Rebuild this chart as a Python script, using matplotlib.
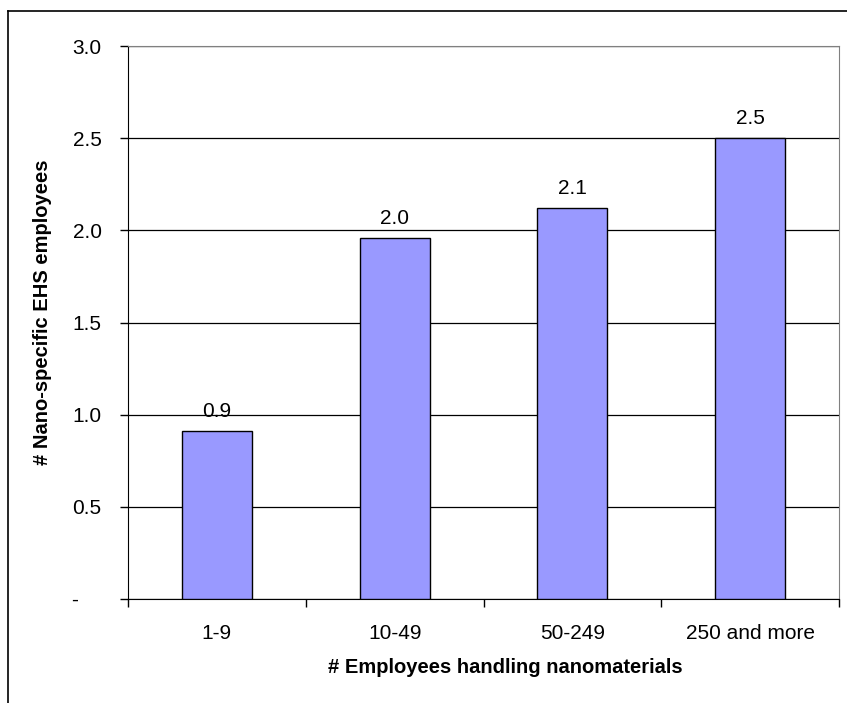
import numpy as np
import matplotlib.pyplot as plt
from matplotlib.ticker import FixedLocator

plt.rcParams['font.family'] = ['Liberation Sans', 'DejaVu Sans']

groups = ['1-9', '10-49', '50-249', '250 and more']
ehs = [0.91, 1.96, 2.12, 2.50]
yticks = [0, 0.5, 1.0, 1.5, 2.0, 2.5, 3.0]
# accounting-style zero: dash sits left of the decimal column
ytick_labels = ['-    ', '0.5', '1.0', '1.5', '2.0', '2.5', '3.0']

fig = plt.figure(figsize=(8.47, 7.03), dpi=100)
# chart frame (left and top edges)
fig.add_artist(plt.Line2D([0.0095, 0.0095], [0, 0.985], color='black', lw=1.2))
fig.add_artist(plt.Line2D([0.0095, 1.0], [0.985, 0.985], color='black', lw=1.2))

ax = fig.add_axes([128/847, 1-599/703, (839-128)/847, (599-46)/703])
x = np.arange(len(groups))
bars = ax.bar(x, ehs, width=0.395, color='#9999FF', edgecolor='black', linewidth=1, zorder=3)
for b, v in zip(bars, ehs):
    ax.text(b.get_x() + b.get_width()/2, v + 0.055, f'{v:.1f}', ha='center', va='bottom', fontsize=15)

ax.set_xlim(-0.5, len(groups) - 0.5)
ax.set_ylim(0, 3.0)
ax.set_yticks(yticks)
ax.set_yticklabels(ytick_labels, fontsize=15)
ax.yaxis.grid(True, color='black', linewidth=0.9, zorder=0)
ax.set_axisbelow(True)

ax.set_xticks(x)
ax.set_xticklabels(groups, fontsize=15)
ax.tick_params(axis='x', length=0, pad=18)
ax.xaxis.set_minor_locator(FixedLocator(np.arange(-0.5, len(groups), 1.0)))
ax.tick_params(axis='x', which='minor', length=6, width=1, direction='out')
ax.tick_params(axis='y', length=6, width=1, direction='out', pad=13)

for s in ['top', 'right']:
    ax.spines[s].set_color('#808080')
for s in ['left', 'bottom']:
    ax.spines[s].set_color('black')

ax.set_xlabel('# Employees handling nanomaterials', fontsize=14.5, fontweight='bold')
ax.set_ylabel('# Nano-specific EHS employees', fontsize=14.5, fontweight='bold')
ax.xaxis.set_label_coords(0.530, -0.107)
ax.yaxis.set_label_coords(-0.107, 0.519)

fig.savefig('out.png', dpi=100)
